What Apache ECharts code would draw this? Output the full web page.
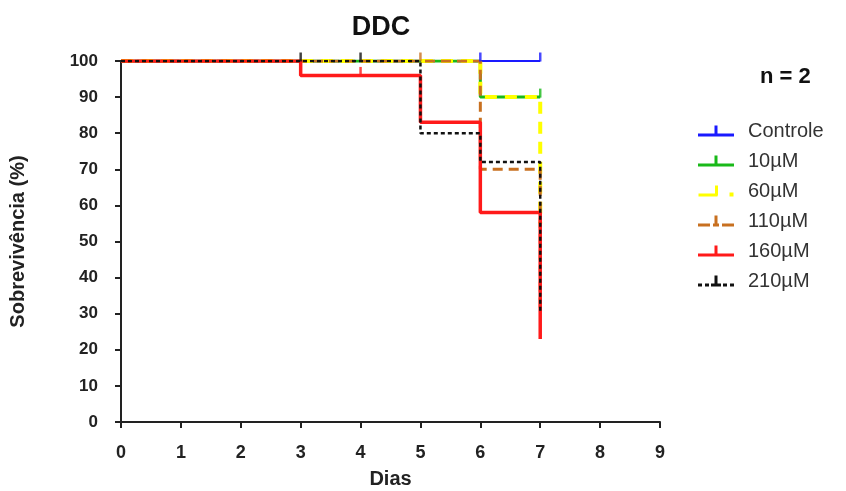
<!DOCTYPE html>
<html>
<head>
<meta charset="utf-8">
<script src="https://cdn.jsdelivr.net/npm/echarts@6/dist/echarts.min.js"></script>
<style>
  html, body { margin: 0; padding: 0; background: #fff; }
  #chart { width: 846px; height: 491px; }
</style>
</head>
<body>
<div id="chart"></div>
<script>
// survival curves (day, % survival), steps happen at the day given
var controle = [[0, 100], [7, 100]];
var c10 = [[0, 100], [6, 90], [7, 90]];
var c60 = [[0, 100], [6, 90], [7, 55]];
var c110 = [[0, 100], [6, 70], [7, 30]];
var c160 = [[0, 100], [3, 96], [5, 83], [6, 58], [7, 23]];
var c210 = [[0, 100], [5, 80], [6, 72], [7, 30]];

// censored marks
var censControle = [[6, 100], [7, 100]];
var cens10 = [[7, 90]];
var cens110 = [[5, 100]];
var cens160 = [[4, 96]];
var cens210 = [[3, 100], [4, 100]];

var names = ['Controle', '10\u00b5M', '60\u00b5M', '110\u00b5M', '160\u00b5M', '210\u00b5M'];
var colors = ['#1a1aff', '#19b919', '#ffff00', '#c87020', '#ff1a1a', '#111111'];
var curves = [controle, c10, c60, c110, c160, c210];
var widths = [2, 3, 4, 3, 3.5, 2.5];
var types = ['solid', 'solid', [12, 8], [10, 6], 'solid', [4, 3]];
var censors = [censControle, cens10, [], cens110, cens160, cens210];

// legend icons: line with a censor tick in the middle
var tick = 'M16.5,0H19.5V10H16.5Z';
var icons = [
    'path://M0,8H36V11H0Z' + tick,
    'path://M0,8H36V11H0Z' + tick,
    'path://M0,8H19V11H0Z' + tick + 'M31,7H35V11H31Z',
    'path://M0,8H12V11H0Z M15,8H21V11H15Z' + tick + 'M24,8H36V11H24Z',
    'path://M0,8H36V11H0Z' + tick,
    'path://M0,8H4V11H0Z M7,8H11V11H7Z M13,8H23V11H13Z' + tick + 'M25,8H29V11H25Z M32,8H36V11H32Z'
];

var font = 'Liberation Sans, Arial, sans-serif';

var series = [];
curves.forEach(function (d, i) {
    series.push({
        name: names[i],
        type: 'line',
        step: 'end',
        data: d,
        symbol: 'none',
        color: colors[i],
        lineStyle: { color: colors[i], width: widths[i], type: types[i] },
        z: 2 + i
    });
});
censors.forEach(function (d, i) {
    series.push({
        name: names[i] + ' cens',
        type: 'scatter',
        data: d,
        symbol: 'rect',
        symbolSize: [2.5, 9],
        symbolOffset: [0, -4],
        itemStyle: { color: i == 5 ? '#111' : colors[i] },
        z: 10
    });
});

var chart = echarts.init(document.getElementById('chart'));
chart.setOption({
    animation: false,
    title: {
        text: 'DDC',
        left: 376,
        top: 9,
        textAlign: 'center',
        textStyle: { fontFamily: font, fontSize: 27, fontWeight: 'bold', color: '#111' }
    },
    graphic: [{
        type: 'text',
        left: 760,
        top: 66,
        style: { text: 'n = 2', fontFamily: font, fontSize: 22, fontWeight: 'bold', fill: '#111' }
    }],
    legend: {
        data: names.map(function (n, i) { return { name: n, icon: icons[i] }; }),
        orient: 'vertical',
        left: 693,
        top: 116,
        itemWidth: 36,
        itemHeight: 11,
        itemGap: 10,
        itemStyle: { borderWidth: 0 },
        lineStyle: { width: 0 },
        textStyle: { fontFamily: font, fontSize: 20, color: '#333', padding: [0, 0, 0, 9] }
    },
    grid: { left: 121, right: 186, top: 61, bottom: 69, outerBoundsMode: 'none' },
    xAxis: {
        type: 'value',
        min: 0, max: 9, interval: 1,
        name: 'Dias',
        nameLocation: 'middle',
        nameGap: 47,
        nameTextStyle: { fontFamily: font, fontSize: 20, fontWeight: 'bold', color: '#222' },
        axisLine: { lineStyle: { color: '#222', width: 2 } },
        axisTick: { show: true, length: 6, lineStyle: { color: '#222', width: 2 } },
        axisLabel: { margin: 22, fontFamily: font, fontSize: 18, fontWeight: 'bold', color: '#222' },
        splitLine: { show: false }
    },
    yAxis: {
        type: 'value',
        min: 0, max: 100, interval: 10,
        name: 'Sobreviv\u00eancia (%)',
        nameLocation: 'middle',
        nameGap: 93,
        nameTextStyle: { fontFamily: font, fontSize: 20, fontWeight: 'bold', color: '#222' },
        axisLine: { show: true, lineStyle: { color: '#222', width: 2 } },
        axisTick: { show: true, length: 6, lineStyle: { color: '#222', width: 2 } },
        axisLabel: { margin: 23, fontFamily: font, fontSize: 17, fontWeight: 'bold', color: '#222' },
        splitLine: { show: false }
    },
    series: series
});
</script>
</body>
</html>
